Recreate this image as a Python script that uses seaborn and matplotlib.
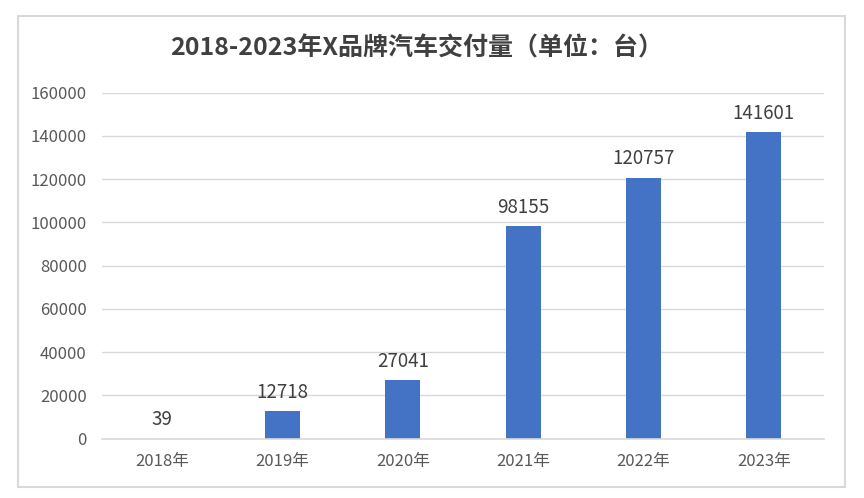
import matplotlib
matplotlib.use("Agg")
import matplotlib.pyplot as plt
import seaborn as sns
import pandas as pd
from matplotlib.patches import Rectangle

years = ["2018年", "2019年", "2020年", "2021年", "2022年", "2023年"]
deliveries = [39, 12718, 27041, 98155, 120757, 141601]
y_ticks = [0, 20000, 40000, 60000, 80000, 100000, 120000, 140000, 160000]
title = "2018-2023年X品牌汽车交付量（单位：台）"

sns.set_theme(style="white")
plt.rcParams["font.family"] = ["Noto Sans CJK SC", "DejaVu Sans"]

W, H = 864, 498
fig = plt.figure(figsize=(W / 100, H / 100), dpi=100)
fig.patch.set_facecolor("white")

# outer chart border
fig.add_artist(Rectangle((18 / W, 1 - 487 / H), (845 - 18) / W, (487 - 16) / H,
                         transform=fig.transFigure, fill=False,
                         edgecolor="#d9d9d9", linewidth=1.5))

ax = fig.add_axes([102 / W, 1 - 438.7 / H, (824 - 102) / W, (438.7 - 92.7) / H])
df = pd.DataFrame({"year": years, "value": deliveries})
sns.barplot(data=df, x="year", y="value", color="#4472C4", width=0.29,
            saturation=1, linewidth=0, ax=ax)

ax.set_xlim(-0.5, len(years) - 0.5)
ax.set_ylim(0, 160000)
ax.set_yticks(y_ticks)
ax.set_yticklabels([str(v) for v in y_ticks])
ax.set_xlabel("")
ax.set_ylabel("")
ax.grid(axis="y", color="#d9d9d9", linewidth=1)
ax.grid(axis="x", visible=False)
ax.set_axisbelow(True)
for s in ["left", "right", "top"]:
    ax.spines[s].set_visible(False)
ax.spines["bottom"].set_color("#d9d9d9")
ax.spines["bottom"].set_linewidth(1.2)
ax.tick_params(axis="y", length=0, pad=11, labelsize=12, labelcolor="#595959")
ax.tick_params(axis="x", length=0, pad=10, labelsize=12, labelcolor="#595959")

for i, v in enumerate(deliveries):
    ax.annotate(str(v), (i, v), xytext=(0, 6), textcoords="offset points",
                ha="center", va="bottom", fontsize=13.5, color="#404040")

fig.text(0.482, 1 - 48 / H, title, ha="center", va="center",
         fontsize=18, fontweight="bold", color="#404040")

fig.savefig("out.png", dpi=100, facecolor="white")
